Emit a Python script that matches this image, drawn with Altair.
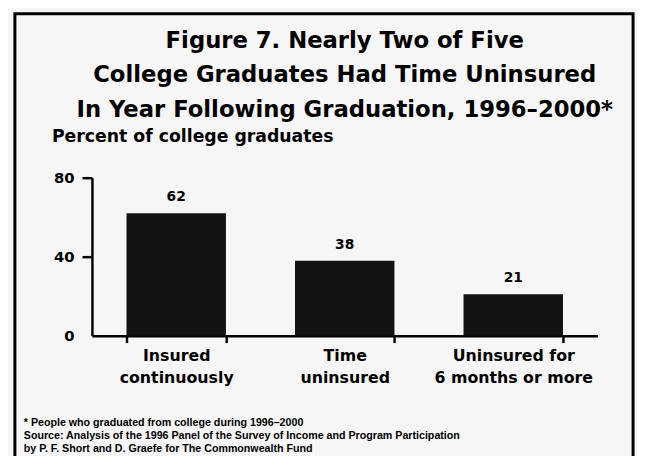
import altair as alt
import pandas as pd

categories = ["Insured|continuously", "Time|uninsured", "Uninsured for|6 months or more"]
values = [62, 38, 21]
y_ticks = [0, 40, 80]
title_lines = [
    "Figure 7. Nearly Two of Five",
    "College Graduates Had Time Uninsured",
    "In Year Following Graduation, 1996\u20132000*",
]
y_title = "Percent of college graduates"
footnote_lines = [
    "* People who graduated from college during 1996\u20132000",
    "Source: Analysis of the 1996 Panel of the Survey of Income and Program Participation",
    "by P. F. Short and D. Graefe for The Commonwealth Fund",
]

df = pd.DataFrame({"category": categories, "value": values})
FONT = "DejaVu Sans"

base = alt.Chart(df)

x_enc = alt.X(
    "category:N",
    sort=categories,
    scale=alt.Scale(paddingInner=0.41, paddingOuter=0.205),
    axis=alt.Axis(
        title=None,
        labelAngle=0,
        labelExpr="split(datum.label, '|')",
        labelFont=FONT,
        labelFontWeight="bold",
        labelFontSize=16,
        labelLineHeight=22,
        labelColor="black",
        labelPadding=5,
        tickBand="extent",
        tickSize=7,
        tickWidth=2.5,
        tickColor="black",
        domainColor="black",
        domainWidth=2.5,
    ),
)
y_enc = alt.Y(
    "value:Q",
    scale=alt.Scale(domain=[0, 80], nice=False),
    axis=alt.Axis(
        values=y_ticks,
        grid=False,
        title=y_title,
        titleAngle=0,
        titleAlign="left",
        titleBaseline="middle",
        titleX=-41,
        titleY=-42,
        titleFont=FONT,
        titleFontSize=17.5,
        titleFontWeight="bold",
        titleColor="black",
        labelFont=FONT,
        labelFontWeight="bold",
        labelFontSize=15,
        labelColor="black",
        labelPadding=8,
        tickSize=10,
        tickWidth=2.5,
        tickColor="black",
        tickOpacity=alt.condition("datum.value == 0", alt.value(0), alt.value(1)),
        domainColor="black",
        domainWidth=2.5,
    ),
)

bars = base.mark_bar(color="#111111").encode(x=x_enc, y=y_enc)
labels = base.mark_text(
    baseline="bottom", dy=-9, font=FONT, fontWeight="bold", fontSize=14, color="black"
).encode(x=alt.X("category:N", sort=categories), y="value:Q", text="value:Q")

foot = alt.Chart(pd.DataFrame({"t": ["\n".join(footnote_lines)]})).mark_text(
    align="left", baseline="top", lineBreak="\n", lineHeight=13.5,
    font="Liberation Sans", fontWeight="bold", fontSize=10.8, color="black",
    x=-69, y=242,
).encode(text="t:N")

frame = alt.Chart(pd.DataFrame({"f": [1]})).mark_rect(
    fill="transparent", stroke="black", strokeWidth=3
).encode(x=alt.value(-78), x2=alt.value(548), y=alt.value(-166), y2=alt.value(300))

chart = alt.layer(bars, labels, foot, frame).properties(
    width=512,
    height=160,
    title=alt.TitleParams(
        text=title_lines,
        anchor="middle",
        font=FONT,
        fontSize=23,
        fontWeight="bold",
        lineHeight=35,
        color="black",
        offset=0,
        dy=111,
    ),
    padding={"left": 85, "top": 169, "right": 41, "bottom": 119},
    autosize=alt.AutoSizeParams(type="none"),
    background="#f6f6f6",
).configure_view(stroke=None)

chart.save("out.html", embed_options={"renderer": "svg", "actions": False})
